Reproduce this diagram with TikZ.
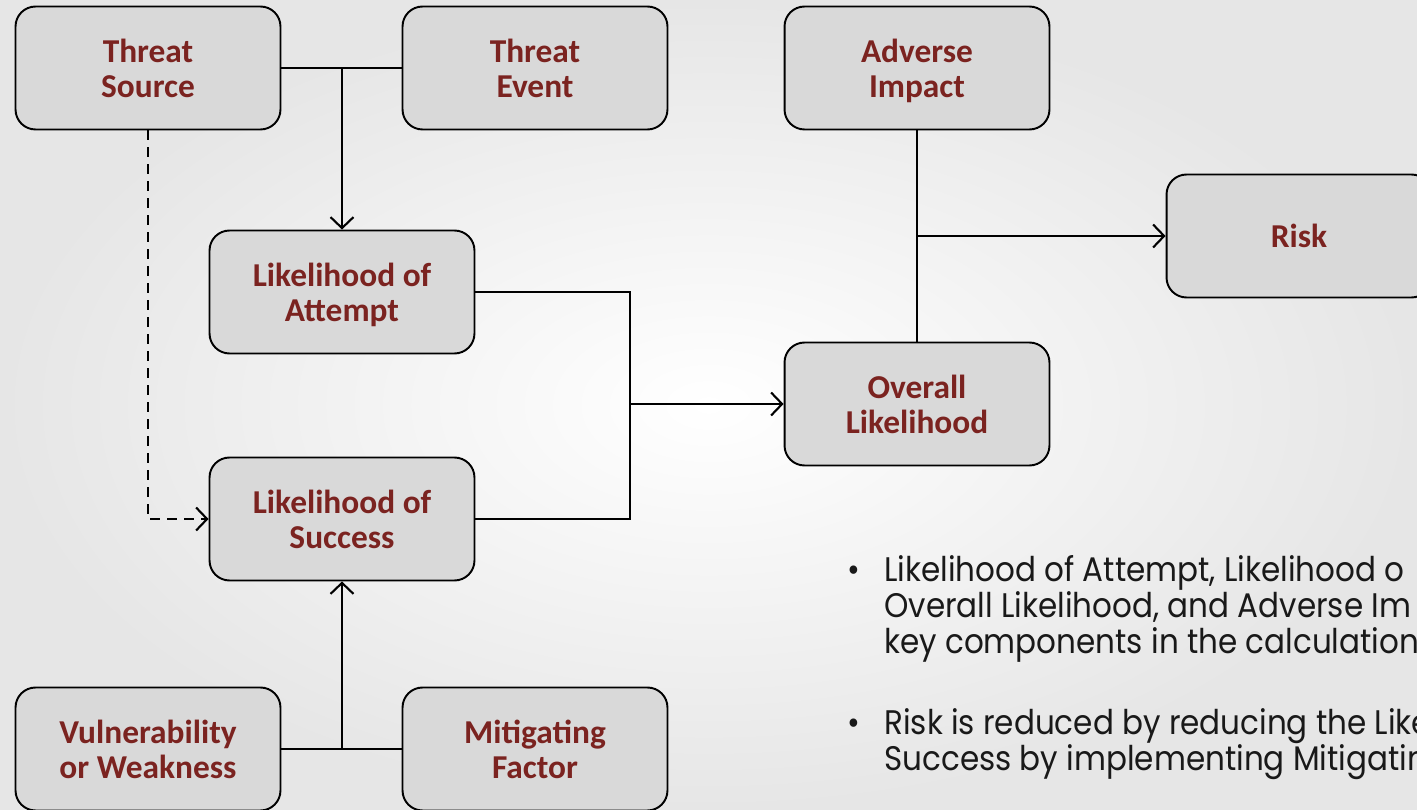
\documentclass[tikz,border=0pt]{standalone}
\usepackage{fontspec}
\setmainfont{Carlito}
\newfontfamily\notefont[FakeStretch=0.91]{Poppins}
\usetikzlibrary{arrows.meta}
\definecolor{boxgray}{HTML}{D9D9D9}
\definecolor{labelred}{HTML}{7B2320}
\definecolor{bggray}{HTML}{E6E6E6}

\begin{document}
\begin{tikzpicture}[x=0.02cm,y=-0.02cm,
  riskbox/.style={draw=black,line width=1.1pt,fill=boxgray,rounded corners=0.4cm,
    minimum width=5.3cm,minimum height=2.46cm,align=center,text=labelred,
    text depth=0pt,font=\fontsize{19}{20}\selectfont\bfseries},
  link/.style={line width=1.2pt},
  arr/.style={link,-{Straight Barb[length=2.2mm,width=4.6mm]}},
  notetext/.style={anchor=base west,inner sep=0pt,text=black!90,
    font=\notefont\fontsize{19.4}{20.4}\selectfont}]
  \path[use as bounding box] (0,0) rectangle (1417,810);
  \clip (0,0) rectangle (1417,810);
  \shade[inner color=white,outer color=bggray] (0,0) rectangle (1417,810);

  % boxes
  \node[riskbox] (source) at (148,68) {Threat\\Source};
  \node[riskbox] (event) at (535,68) {Threat\\Event};
  \node[riskbox] (impact) at (917,68) {Adverse\\Impact};
  \node[riskbox] (risk) at (1299,236) {Risk};
  \node[riskbox] (attempt) at (342,292) {Likelihood of\\Attempt};
  \node[riskbox] (overall) at (917,404) {Overall\\Likelihood};
  \node[riskbox] (success) at (342,519) {Likelihood of\\Success};
  \node[riskbox] (vuln) at (148,749) {Vulnerability\\or Weakness};
  \node[riskbox] (mitig) at (535,749) {Mitigating\\Factor};

  % junctions
  \coordinate (topjoin) at (source.east -| attempt.north);
  \coordinate (midjoin) at (630,404);
  \coordinate (rightjoin) at (impact |- risk);
  \coordinate (botjoin) at (vuln -| success);

  % connectors
  \draw[link] (source) -- (event);
  \draw[arr] (topjoin) -- (attempt);
  \draw[arr,dash pattern=on 2mm off 1.4mm] (source) |- (success);
  \draw[link] (attempt) -| (midjoin) |- (success);
  \draw[arr] (midjoin) -- (overall);
  \draw[link] (impact) -- (overall);
  \draw[arr] (rightjoin) -- (risk);
  \draw[link] (vuln) -- (mitig);
  \draw[arr] (botjoin) -- (success);

  % notes
  \node[notetext] (dot1) at (847,582) {•};
  \node[notetext] (note1a) at (884,582) {Likelihood of Attempt, Likelihood o};
  \node[notetext] (note1b) at (884,618) {Overall Likelihood, and Adverse Im};
  \node[notetext] (note1c) at (884,654) {key components in the calculation};
  \node[notetext] (dot2) at (847,734) {•};
  \node[notetext] (note2a) at (884,734) {Risk is reduced by reducing the Like};
  \node[notetext] (note2b) at (884,770) {Success by implementing Mitigatin};
\end{tikzpicture}
\end{document}
